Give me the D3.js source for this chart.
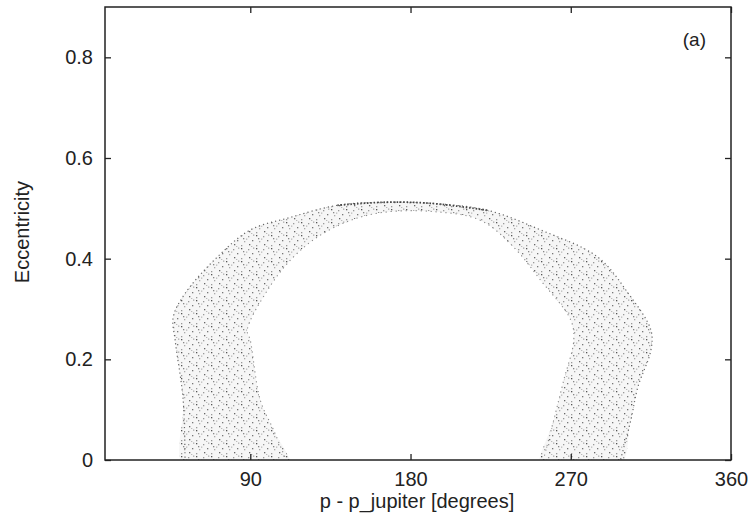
<!DOCTYPE html>
<html>
<head>
<meta charset="utf-8">
<script src="https://cdn.jsdelivr.net/npm/d3@7"></script>
<style>
  html, body { margin: 0; padding: 0; background: #fff; }
  svg text { font-family: "Liberation Sans", Arial, Helvetica, sans-serif; fill: #222; }
</style>
</head>
<body>
<svg id="chart" width="752" height="525"></svg>
<script>
// ---- data ----
const xTicks = [90, 180, 270, 360];
const yTicks = [0, 0.2, 0.4, 0.6, 0.8];
const xLabel = "p - p_jupiter [degrees]";
const yLabel = "Eccentricity";
const panelLabel = "(a)";

// outer boundary of the populated band: [degrees, eccentricity]
const outerDeg = [53.4, 52.3, 47.8, 46.7, 53.4, 71.4, 90.0, 112.5, 138.9, 164.8, 191.2, 223.3, 253.1, 285.2, 302.1, 315.0, 315.0, 307.7, 303.7, 296.4];
const outerEcc = [-0.02, 0.119, 0.238, 0.284, 0.331, 0.403, 0.457, 0.482, 0.506, 0.512, 0.510, 0.496, 0.457, 0.403, 0.332, 0.258, 0.218, 0.145, 0.079, -0.02];
// inner boundary, from bottom right back to bottom left
const innerDeg = [253.1, 260.4, 266.1, 271.7, 270.0, 253.1, 237.9, 219.4, 191.2, 164.8, 146.2, 127.7, 112.5, 99.6, 88.3, 90.0, 95.6, 103.0, 112.5];
const innerEcc = [-0.02, 0.079, 0.159, 0.238, 0.278, 0.357, 0.423, 0.476, 0.494, 0.492, 0.476, 0.443, 0.397, 0.337, 0.258, 0.238, 0.119, 0.060, -0.02];

// ---- layout ----
const svg = d3.select("#chart");
const L = 105, R = 731, T = 7, B = 460;
const x = d3.scaleLinear().domain([8.4, 360]).range([L, R]);
const y = d3.scaleLinear().domain([0, 0.9]).range([B, T]);

const defs = svg.append("defs");
defs.append("clipPath").attr("id", "plotclip")
  .append("rect").attr("x", L).attr("y", T).attr("width", R - L).attr("height", B - T);

// stipple pattern
const pat = defs.append("pattern")
  .attr("id", "stipple").attr("patternUnits", "userSpaceOnUse")
  .attr("width", 15).attr("height", 13);
pat.append("rect").attr("width", 15).attr("height", 13).attr("fill", "#f6f6f6");
[[1,1,"#555"],[8,2,"#999"],[12,6,"#777"],[4,7,"#aaa"],[9,10,"#666"],[1,11,"#999"],[6,4.5,"#bbb"],[13,0.5,"#aaa"],[11,12,"#bbb"],[3,4,"#888"]].forEach(p => {
  pat.append("rect").attr("x", p[0]).attr("y", p[1]).attr("width", 1.3).attr("height", 1.3).attr("fill", p[2]);
});

const outer = outerDeg.map((d, i) => [d, outerEcc[i]]);
const inner = innerDeg.map((d, i) => [d, innerEcc[i]]);
const band = outer.concat(inner);

const line = d3.line().x(d => x(d[0])).y(d => y(d[1])).curve(d3.curveCatmullRomClosed.alpha(0.5));
const openLine = d3.line().x(d => x(d[0])).y(d => y(d[1])).curve(d3.curveCatmullRom.alpha(0.5));

const gBand = svg.append("g").attr("clip-path", "url(#plotclip)");
gBand.append("path").attr("d", line(band)).attr("fill", "url(#stipple)").attr("stroke", "none");
gBand.append("path").attr("d", openLine(outer)).attr("fill", "none")
  .attr("stroke", "#666").attr("stroke-width", 1.2).attr("stroke-dasharray", "1.2 3");
gBand.append("path").attr("d", openLine(inner)).attr("fill", "none")
  .attr("stroke", "#888").attr("stroke-width", 1.1).attr("stroke-dasharray", "1.2 3.8");
// dense crest at the top of the arc
const crest = outer.filter(d => d[0] > 130 && d[0] < 230);
gBand.append("path").attr("d", openLine(crest)).attr("fill", "none")
  .attr("stroke", "#444").attr("stroke-width", 1.8).attr("stroke-dasharray", "1.5 1.8");

// ---- axes (ticks inward, mirrored) ----
const tickLen = 6;
const gx = svg.append("g").attr("transform", `translate(0,${B})`)
  .call(d3.axisBottom(x).tickValues(xTicks).tickSize(-tickLen).tickPadding(12).tickFormat(d3.format("d")));
const gxt = svg.append("g").attr("transform", `translate(0,${T})`)
  .call(d3.axisTop(x).tickValues(xTicks).tickSize(-tickLen).tickFormat(""));
const gy = svg.append("g").attr("transform", `translate(${L},0)`)
  .call(d3.axisLeft(y).tickValues(yTicks).tickSize(-tickLen).tickPadding(12).tickFormat(d => d === 0 ? "0" : d3.format(".1f")(d)));
const gyr = svg.append("g").attr("transform", `translate(${R},0)`)
  .call(d3.axisRight(y).tickValues(yTicks).tickSize(-tickLen).tickFormat(""));
[gx, gxt, gy, gyr].forEach(g => {
  g.select(".domain").remove();
  g.selectAll(".tick line").attr("stroke", "#222").attr("stroke-width", 1.3);
  g.selectAll("text").attr("font-size", 20).attr("fill", "#222")
    .attr("font-family", "'Liberation Sans', Arial, sans-serif");
});
gx.selectAll("text").attr("dy", "0.71em");

svg.append("rect").attr("x", L).attr("y", T).attr("width", R - L).attr("height", B - T)
  .attr("fill", "none").attr("stroke", "#222").attr("stroke-width", 1.5);

// labels
svg.append("text").attr("x", 417).attr("y", 508).attr("text-anchor", "middle")
  .attr("font-size", 20).text(xLabel);
svg.append("text").attr("transform", `translate(29,232) rotate(-90)`).attr("text-anchor", "middle")
  .attr("font-size", 20).text(yLabel);
svg.append("text").attr("x", 706).attr("y", 46).attr("text-anchor", "end")
  .attr("font-size", 19).text(panelLabel);
</script>
</body>
</html>
